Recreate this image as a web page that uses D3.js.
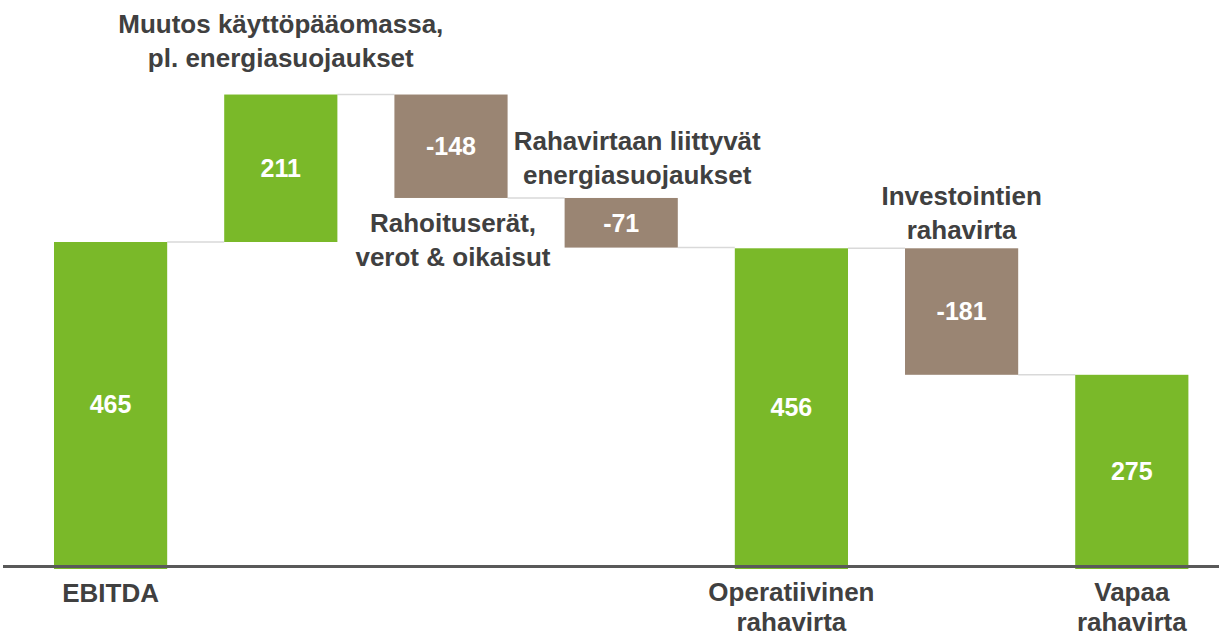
<html>
<head>
<meta charset="utf-8">
<style>
  body { margin: 0; background: #fff; }
  text { font-family: "Liberation Sans", Arial, sans-serif; font-weight: bold; }
</style>
</head>
<body>
  <div id="chart"></div>
  <script src="https://d3js.org/d3.v7.min.js"></script>
  <script>
  // data
  var categories = [
    ["EBITDA"],
    ["Muutos käyttöpääomassa,", "pl. energiasuojaukset"],
    ["Rahoituserät,", "verot & oikaisut"],
    ["Rahavirtaan liittyvät", "energiasuojaukset"],
    ["Operatiivinen", "rahavirta"],
    ["Investointien", "rahavirta"],
    ["Vapaa", "rahavirta"]
  ];
  var values = [465, 211, -148, -71, 456, -181, 275];
  var isTotal = [true, false, false, false, true, false, true];

  // where each category label sits (styling only)
  var labelPlace = ["axis", "above", "below", "above", "axis", "above", "axis"];
  var labelGap = [35, 28, 34, 14, 34, 9, 34];
  var labelDx = [0, 0, 2, 16, 0, 0, 0];

  var width = 1219,
      height = 639,
      baseY = 567,
      lineH = 34,
      axisLineH = 30,
      green = "#7ab929",
      brown = "#9a8573",
      textColor = "#404040";

  var svg = d3.select("#chart").append("svg")
      .attr("width", width)
      .attr("height", height);

  // running totals -> bar extents
  var bars = [], run = 0;
  values.forEach(function(v, i){
    var start, end;
    if (isTotal[i]) { start = 0; end = v; run = v; }
    else { start = run; end = run + v; run = end; }
    bars.push({i: i, v: v, lo: Math.min(start, end), hi: Math.max(start, end), level: run, total: isTotal[i]});
  });

  var x = d3.scaleBand()
      .domain(d3.range(values.length))
      .range([54, 1188.4])
      .paddingInner(0.335)
      .paddingOuter(0);

  var y = d3.scaleLinear()
      .domain([0, values[0]])
      .range([baseY, 242]);

  // connectors
  svg.selectAll("line.conn")
    .data(bars.slice(0, -1))
    .enter()
    .append("line")
    .attr("class", "conn")
    .attr("x1", function(d){ return x(d.i) + x.bandwidth(); })
    .attr("x2", function(d){ return x(d.i + 1); })
    .attr("y1", function(d){ return y(d.level); })
    .attr("y2", function(d){ return y(d.level); })
    .attr("stroke", "#d9d9d9")
    .attr("stroke-width", 1.5);

  svg.selectAll("rect.bar")
    .data(bars)
    .enter()
    .append("rect")
    .attr("class", "bar")
    .attr("x", function(d){ return x(d.i); })
    .attr("width", x.bandwidth())
    .attr("y", function(d){ return y(d.hi); })
    .attr("height", function(d){ return y(d.lo) - y(d.hi) + (d.total ? 2 : 0); })
    .attr("fill", function(d){ return d.total || d.v > 0 ? green : brown; });

  // axis line
  svg.append("line")
    .attr("x1", 3).attr("x2", width)
    .attr("y1", baseY - 0.5).attr("y2", baseY - 0.5)
    .attr("stroke", "#595959")
    .attr("stroke-width", 3);

  // value labels
  svg.selectAll("text.val")
    .data(bars)
    .enter()
    .append("text")
    .attr("class", "val")
    .attr("x", function(d){ return x(d.i) + x.bandwidth() / 2; })
    .attr("y", function(d){ return (y(d.lo) + y(d.hi)) / 2; })
    .attr("dy", "0.35em")
    .attr("text-anchor", "middle")
    .attr("fill", "#fff")
    .attr("font-size", 25)
    .text(function(d){ return d.v; });

  // category labels
  bars.forEach(function(d){
    var lines = categories[d.i],
        cx = x(d.i) + x.bandwidth() / 2 + labelDx[d.i],
        lh = labelPlace[d.i] === "axis" ? axisLineH : lineH,
        first;
    if (labelPlace[d.i] === "above") first = y(d.hi) - labelGap[d.i] - (lines.length - 1) * lh;
    else if (labelPlace[d.i] === "below") first = y(d.lo) + labelGap[d.i];
    else first = baseY + labelGap[d.i];

    var t = svg.append("text")
      .attr("text-anchor", "middle")
      .attr("fill", textColor)
      .attr("font-size", 26);
    lines.forEach(function(s, k){
      t.append("tspan").attr("x", cx).attr("y", first + k * lh).text(s);
    });
  });
  </script>
</body>
</html>
